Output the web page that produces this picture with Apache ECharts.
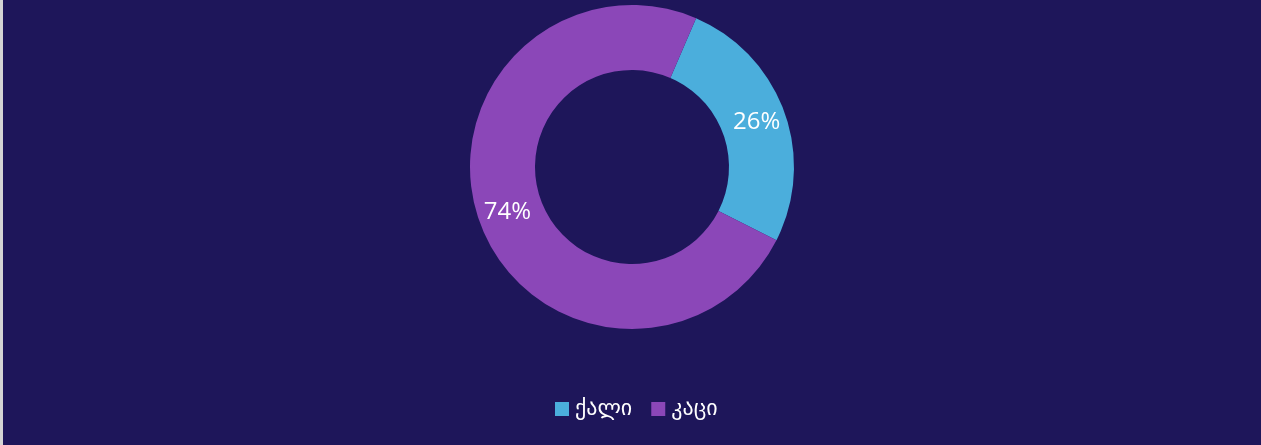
<!DOCTYPE html>
<html><head><meta charset="utf-8">
<script src="https://cdn.jsdelivr.net/npm/echarts@6/dist/echarts.min.js"></script>
<style>
html,body{margin:0;padding:0;background:#1E165A;}
#wrap{position:absolute;left:0;top:0;width:1261px;height:445px;border-left:3px solid #D4D4D4;box-sizing:border-box;}
#c{width:100%;height:100%;}
</style></head>
<body><div id="wrap"><div id="c"></div></div>
<script>
const categories = ['ქალი', 'კაცი'];
const values = [26, 74];
const colors = ['#4BAEDC', '#8B47B8'];

const chart = echarts.init(document.getElementById('c'), null, {renderer: 'canvas'});
chart.setOption({
  backgroundColor: '#1E165A',
  animation: false,
  color: colors,
  legend: {
    data: categories,
    bottom: 20,
    left: 547,
    icon: 'rect',
    itemWidth: 14,
    itemHeight: 14,
    itemGap: 19,
    textStyle: {color: '#FFFFFF', fontSize: 22, fontFamily: 'DejaVu Sans', padding: [0, 0, 0, 1]},
    selectedMode: false
  },
  series: [{
    type: 'pie',
    center: [629, 167],
    radius: [97, 162],
    startAngle: 66.7,
    clockwise: true,
    avoidLabelOverlap: false,
    label: {
      show: true,
      position: 'inside',
      formatter: p => p.value + '%',
      color: '#FFFFFF',
      fontSize: 24,
      fontFamily: 'Open Sans'
    },
    labelLine: {show: false},
    itemStyle: {borderWidth: 0},
    emphasis: {disabled: true},
    data: categories.map((n, i) => ({name: n, value: values[i]}))
  }]
});
</script></body></html>
